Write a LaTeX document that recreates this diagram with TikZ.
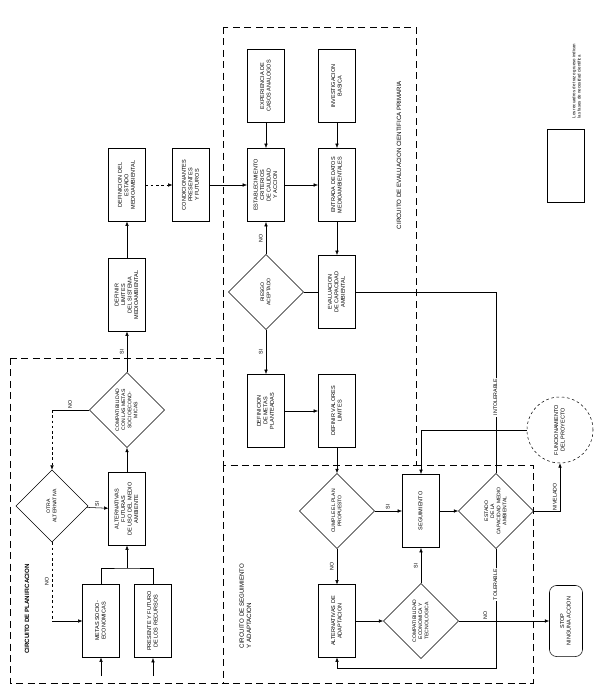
\documentclass[tikz,border=0pt]{standalone}
\usepackage{fontspec}
\setmainfont{Liberation Sans}
\usepackage{graphicx}
\usetikzlibrary{shapes.geometric,arrows.meta}

\newcommand{\vtext}[1]{\rotatebox{90}{\begin{tabular}{@{}c@{}}#1\end{tabular}}}
\newcommand{\vleft}[1]{\rotatebox{90}{\begin{tabular}{@{}l@{}}#1\end{tabular}}}

\begin{document}
\begin{tikzpicture}[x=0.04cm,y=-0.04cm,
  font=\fontsize{6.3}{7.4}\selectfont,
  box/.style={draw,line width=0.6pt,minimum width=1.46cm,minimum height=2.9cm,inner sep=1pt},
  boldbox/.style={box,line width=1.5pt},
  decision/.style={draw,diamond,aspect=1,minimum size=3cm,inner sep=0pt,line width=0.6pt,font=\fontsize{5.8}{7}\selectfont},
  region/.style={dash pattern=on 8pt off 5pt,line width=0.6pt},
  arr/.style={-{Latex[length=5pt,width=4pt]},line width=0.6pt},
  tag/.style={font=\fontsize{6}{7}\selectfont,inner sep=1.5pt},
  title/.style={font=\fontsize{7}{8.4}\selectfont}]
  \useasboundingbox (0,0) rectangle (600,698);

  % circuitos
  \draw[region] (223,27) rectangle (416,465);
  \draw[region] (10,358) -- (223,358);
  \draw[region] (10,358) -- (10,683) -- (533,683) -- (533,465) -- (416,465);
  \draw[region] (223,465) -- (223,683);
  \node[title,font=\fontsize{7}{8.4}\selectfont\bfseries] (tplan) at (27,609) {\rotatebox{90}{CIRCUITO DE PLANIFICACION}};
  \node[title] (tseg) at (246,606) {\vleft{CIRCUITO DE SEGUIMIENTO\\Y ADAPTACION}};
  \node[title] (teval) at (399,155) {\rotatebox{90}{CIRCUITO DE EVALUACION CIENTIFICA PRIMARIA}};

  % planificacion
  \node[box] (lim) at (127,295) {\vtext{DEFINIR\\LIMITES\\DEL SISTEMA\\MEDIOAMBIENTAL}};
  \node[box] (est) at (127,185) {\vtext{DEFINICION DEL\\ESTADO\\MEDIOAMBIENTAL}};
  \node[box] (cond) at (191,185) {\vtext{CONDICIONANTES\\PRESENTES\\Y FUTUROS}};
  \node[decision] (comp1) at (127,410) {\vtext{COMPATIBILIDAD\\CON LAS METAS\\SOCIOECONO-\\MICAS}};
  \node[decision,minimum size=2.88cm] (otra) at (52,506) {\vtext{OTRA\\ALTERNATIVA}};
  \node[box] (altfut) at (127,509) {\vtext{ALTERNATIVAS\\FUTURAS\\DE USO DEL MEDIO\\AMBIENTE}};
  \node[box] (msoc) at (101,621) {\vtext{METAS SOCIO-\\ECONOMICAS}};
  \node[boldbox] (pres) at (153,621) {\vtext{PRESENTE Y FUTURO\\DE LOS RECURSOS}};
  \coordinate (junta) at (127,568);
  \coordinate (in1) at (101,676);
  \coordinate (in2) at (153,676);

  % evaluacion
  \node[boldbox] (exp) at (266,86) {\vtext{EXPERIENCIA DE\\CASOS ANALOGOS}};
  \node[box] (inv) at (337,86) {\vtext{INVESTIGACION\\BASICA}};
  \node[boldbox] (crit) at (266,185) {\vtext{ESTABLECIMIENTO\\CRITERIOS\\DE CALIDAD\\Y ACCION}};
  \node[boldbox] (ent) at (337,185) {\vtext{ENTRADA DE DATOS\\MEDIOAMBIENTALES}};
  \node[boldbox] (eval) at (337,292) {\vtext{EVALUACION\\DE CAPACIDAD\\AMBIENTAL}};
  \node[decision] (riesgo) at (266,292) {\vtext{RIESGO\\ACEPTADO}};
  \node[boldbox] (metas) at (266,411) {\vtext{DEFINICION\\DE METAS\\PLANTEADAS}};
  \node[boldbox] (valor) at (337,411) {\vtext{DEFINIR VALORES\\LIMITES}};

  % seguimiento
  \node[decision] (cumple) at (337,511) {\vtext{CUMPLE EL PLAN\\PROPUESTO}};
  \node[box] (altad) at (337,621) {\vtext{ALTERNATIVAS DE\\ADAPTACION}};
  \node[decision] (comp2) at (421,621) {\vtext{COMPATIBILIDAD\\ECONOMICA Y\\TECNOLOGICA}};
  \node[boldbox] (seg) at (421,511) {\vtext{SEGUIMIENTO}};
  \node[decision] (estado) at (496,511) {\vtext{ESTADO\\DE LA\\CAPACIDAD MEDIO\\AMBIENTAL}};
  \node[draw,circle,dashed,line width=0.6pt,minimum size=2.64cm,inner sep=0pt] (func) at (560,430) {\vtext{FUNCIONAMIENTO\\DEL PROYECTO}};
  \node[box,rounded corners=8pt,minimum width=1.32cm,minimum height=2.84cm] (stop) at (566,621) {\vtext{STOP\\NINGUNA ACCION}};
  \coordinate (bajo) at (496,668);

  % leyenda
  \node[boldbox] (ley) at (566,166) {};
  \node[font=\fontsize{5}{6}\selectfont] (leytxt) at (577,81) {\vleft{Los recuadros de trazo grueso indican\\las fases de necesidad cientifica}};

  % conexiones planificacion
  \draw[arr] (comp1) -- node[tag,left]{\vtext{SI}} (lim);
  \draw[arr] (lim) -- (est);
  \draw[arr,dashed] (est) -- (cond);
  \draw[arr] (cond) -- (crit);
  \draw (comp1.west) -- node[tag,above]{\vtext{NO}} (comp1.west -| otra.north);
  \draw[arr,dashed] (comp1.west -| otra.north) -- (otra.north);
  \draw[arr] (otra) -- node[tag,above]{\vtext{SI}} (altfut);
  \draw[dashed] (otra.south) -- node[tag,left]{\vtext{NO}} (otra.south |- msoc.west);
  \draw[arr] (otra.south |- msoc.west) -- (msoc.west);
  \draw[arr] (altfut) -- (comp1);
  \draw (msoc.north) |- (junta) -| (pres.north);
  \draw[arr] (junta) -- (altfut);
  \draw[arr] (in1) -- (msoc);
  \draw[arr] (in2) -- (pres);

  % conexiones evaluacion
  \draw[arr] (exp) -- (crit);
  \draw[arr] (inv) -- (ent);
  \draw[arr] (crit) -- (ent);
  \draw[arr] (ent) -- (eval);
  \draw (eval) -- (riesgo);
  \draw[arr] (riesgo) -- node[tag,left]{\vtext{NO}} (crit);
  \draw[arr] (riesgo) -- node[tag,left]{\vtext{SI}} (metas);
  \draw[arr] (metas) -- (valor);
  \draw[arr] (valor) -- (cumple);

  % conexiones seguimiento
  \draw[arr] (cumple) -- node[tag,above]{\vtext{SI}} (seg);
  \draw[arr] (cumple) -- node[tag,left]{\vtext{NO}} (altad);
  \draw[arr] (altad) -- (comp2);
  \draw[arr] (comp2) -- node[tag,left]{\vtext{SI}} (seg);
  \draw[arr] (comp2) -- node[tag,above,pos=0.3]{\vtext{NO}} (stop);
  \draw[arr] (seg) -- (estado);
  \draw[arr] (estado.east) -| node[tag,left,pos=0.65]{\vtext{NIVELADO}} (func.south);
  \draw[arr] (func.west) -| (seg.north);
  \draw (estado.north) -- node[tag,fill=white,pos=0.42]{\vtext{INTOLERABLE}} (estado.north |- eval.east) -- (eval.east);
  \draw[arr] (estado.south) -- node[tag,fill=white,pos=0.3]{\vtext{TOLERABLE}} (bajo) -| (altad.south);
\end{tikzpicture}
\end{document}
